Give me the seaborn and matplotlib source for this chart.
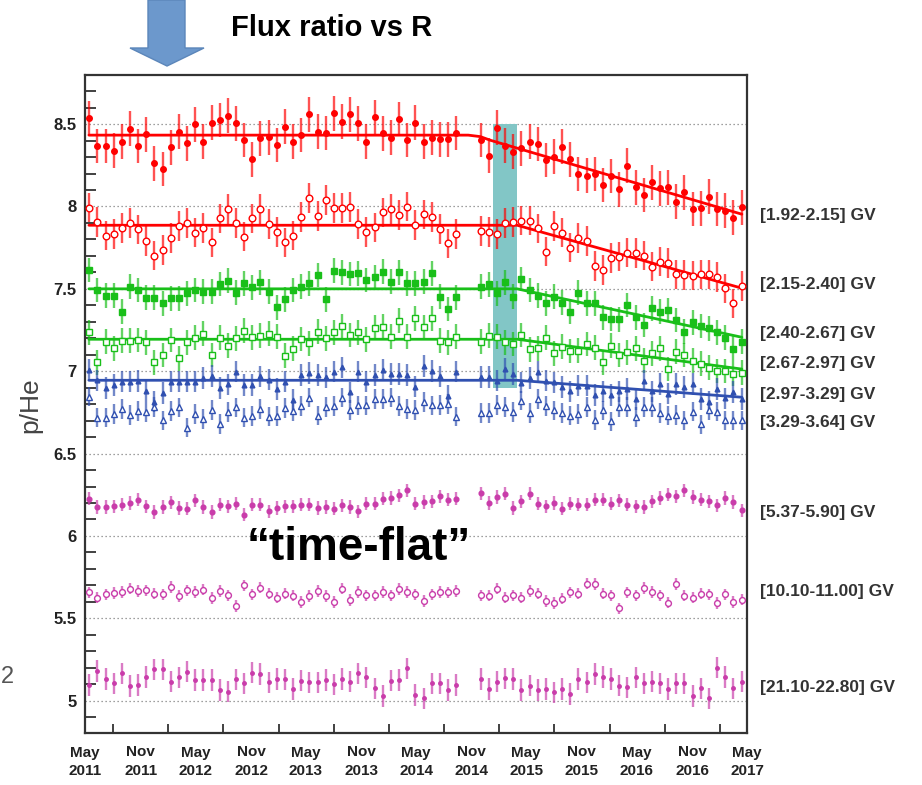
import matplotlib
matplotlib.use("Agg")
import matplotlib.pyplot as plt
import matplotlib.dates as mdates
import matplotlib.transforms as mtransforms
from matplotlib.patches import Polygon, Rectangle
from matplotlib.ticker import MultipleLocator, FormatStrFormatter
import seaborn as sns
import pandas as pd

# Bartels rotations 2426-2506, the two rotations of the 2014 gap are missing
rotations = pd.date_range("2011-05-15", periods=81, freq="27D")
dates = rotations.delete([46, 47])

bins = ["[1.92-2.15] GV", "[2.15-2.40] GV", "[2.40-2.67] GV", "[2.67-2.97] GV",
        "[2.97-3.29] GV", "[3.29-3.64] GV", "[5.37-5.90] GV", "[10.10-11.00] GV",
        "[21.10-22.80] GV"]

ratio_192 = [8.538, 8.367, 8.367, 8.338, 8.393, 8.472, 8.367, 8.437, 8.261, 8.227,
             8.359, 8.454, 8.383, 8.498, 8.393, 8.508, 8.524, 8.551, 8.504, 8.403,
             8.286, 8.413, 8.419, 8.373, 8.484, 8.393, 8.433, 8.559, 8.454, 8.447,
             8.565, 8.514, 8.559, 8.504, 8.393, 8.544, 8.443, 8.417, 8.530, 8.403,
             8.508, 8.393, 8.417, 8.407, 8.407, 8.447,
             8.403, 8.308, 8.478, 8.369, 8.332, 8.352, 8.393, 8.379, 8.282, 8.302,
             8.363, 8.286, 8.197, 8.187, 8.197, 8.130, 8.185, 8.104, 8.247, 8.116,
             8.069, 8.146, 8.110, 8.116, 8.029, 8.086, 7.985, 7.989, 8.059, 7.985,
             7.974, 7.932, 7.995]
ratio_215 = [7.993, 7.904, 7.823, 7.833, 7.871, 7.898, 7.861, 7.792, 7.702, 7.736,
             7.807, 7.881, 7.898, 7.841, 7.871, 7.782, 7.928, 7.985, 7.898, 7.817,
             7.928, 7.983, 7.894, 7.847, 7.782, 7.823, 7.938, 8.053, 7.944, 8.039,
             7.989, 7.989, 7.995, 7.894, 7.847, 7.873, 7.964, 7.985, 7.948, 7.999,
             7.888, 7.952, 7.938, 7.863, 7.776, 7.831,
             7.853, 7.847, 7.831, 7.898, 7.904, 7.914, 7.914, 7.867, 7.726, 7.881,
             7.841, 7.750, 7.807, 7.790, 7.639, 7.615, 7.689, 7.696, 7.720, 7.716,
             7.702, 7.635, 7.665, 7.655, 7.588, 7.584, 7.580, 7.588, 7.588, 7.570,
             7.503, 7.412, 7.518]
ratio_240 = [7.615, 7.493, 7.459, 7.459, 7.362, 7.514, 7.493, 7.447, 7.447, 7.412,
             7.443, 7.443, 7.473, 7.493, 7.483, 7.483, 7.530, 7.550, 7.477, 7.534,
             7.509, 7.540, 7.483, 7.388, 7.437, 7.493, 7.514, 7.534, 7.584, 7.437,
             7.611, 7.600, 7.590, 7.594, 7.554, 7.570, 7.605, 7.544, 7.600, 7.534,
             7.534, 7.544, 7.594, 7.453, 7.378, 7.449,
             7.514, 7.528, 7.473, 7.540, 7.453, 7.560, 7.493, 7.459, 7.412, 7.453,
             7.416, 7.362, 7.477, 7.412, 7.412, 7.328, 7.317, 7.315, 7.402, 7.328,
             7.281, 7.382, 7.362, 7.372, 7.311, 7.241, 7.297, 7.275, 7.261, 7.237,
             7.204, 7.136, 7.180]
ratio_267 = [7.235, 7.055, 7.180, 7.140, 7.186, 7.186, 7.190, 7.176, 7.053, 7.099,
             7.190, 7.079, 7.176, 7.204, 7.227, 7.099, 7.204, 7.156, 7.200, 7.247,
             7.206, 7.216, 7.227, 7.210, 7.095, 7.136, 7.196, 7.170, 7.241, 7.200,
             7.235, 7.275, 7.220, 7.237, 7.194, 7.265, 7.271, 7.210, 7.307, 7.210,
             7.321, 7.267, 7.321, 7.186, 7.176, 7.210,
             7.180, 7.216, 7.210, 7.176, 7.166, 7.220, 7.133, 7.140, 7.204, 7.109,
             7.150, 7.123, 7.125, 7.166, 7.143, 7.053, 7.154, 7.099, 7.115, 7.140,
             7.063, 7.109, 7.140, 7.014, 7.119, 7.099, 7.065, 7.045, 7.022, 7.002,
             7.002, 6.984, 6.992]
ratio_297 = [7.008, 6.944, 6.897, 6.917, 6.937, 6.937, 6.941, 6.877, 6.816, 6.867,
             6.937, 6.937, 6.937, 6.937, 6.958, 6.972, 6.897, 6.921, 6.998, 6.917,
             6.917, 6.968, 6.948, 6.891, 6.937, 6.826, 6.976, 6.990, 6.976, 6.962,
             6.998, 7.024, 6.871, 6.998, 6.937, 6.976, 7.008, 6.984, 6.984, 6.976,
             6.907, 7.032, 7.002, 6.968, 6.850, 6.998,
             6.964, 6.964, 6.943, 7.014, 6.984, 6.930, 6.958, 6.994, 6.943, 6.933,
             6.903, 6.877, 6.913, 6.913, 6.856, 6.877, 6.856, 6.877, 6.893, 6.832,
             6.943, 6.877, 6.923, 6.863, 6.923, 6.903, 6.923, 6.832, 6.812, 6.893,
             6.836, 6.873, 6.832]
ratio_329 = [6.846, 6.719, 6.719, 6.739, 6.770, 6.735, 6.759, 6.751, 6.782, 6.701,
             6.759, 6.780, 6.658, 6.741, 6.709, 6.766, 6.681, 6.751, 6.780, 6.719,
             6.729, 6.770, 6.725, 6.729, 6.776, 6.759, 6.790, 6.840, 6.731, 6.782,
             6.790, 6.840, 6.766, 6.792, 6.792, 6.832, 6.832, 6.840, 6.790, 6.772,
             6.766, 6.812, 6.792, 6.796, 6.802, 6.725,
             6.747, 6.747, 6.796, 6.782, 6.751, 6.822, 6.747, 6.832, 6.788, 6.762,
             6.747, 6.731, 6.741, 6.782, 6.705, 6.762, 6.695, 6.782, 6.782, 6.721,
             6.782, 6.782, 6.747, 6.731, 6.735, 6.701, 6.755, 6.677, 6.762, 6.755,
             6.701, 6.701, 6.701]
ratio_537 = [6.226, 6.176, 6.176, 6.180, 6.190, 6.200, 6.220, 6.180, 6.145, 6.176,
             6.204, 6.170, 6.166, 6.216, 6.176, 6.145, 6.190, 6.180, 6.196, 6.130,
             6.190, 6.190, 6.150, 6.170, 6.180, 6.180, 6.190, 6.190, 6.170, 6.176,
             6.166, 6.186, 6.176, 6.150, 6.196, 6.196, 6.226, 6.230, 6.246, 6.277,
             6.196, 6.206, 6.210, 6.240, 6.220, 6.226,
             6.260, 6.200, 6.236, 6.257, 6.170, 6.210, 6.257, 6.196, 6.180, 6.200,
             6.166, 6.196, 6.190, 6.190, 6.220, 6.220, 6.196, 6.216, 6.190, 6.180,
             6.176, 6.210, 6.230, 6.250, 6.240, 6.277, 6.236, 6.220, 6.210, 6.186,
             6.230, 6.206, 6.156]
ratio_1010 = [5.657, 5.626, 5.646, 5.655, 5.660, 5.680, 5.667, 5.670, 5.650, 5.646,
              5.690, 5.634, 5.670, 5.660, 5.675, 5.624, 5.667, 5.640, 5.574, 5.700,
              5.646, 5.687, 5.650, 5.626, 5.650, 5.638, 5.600, 5.634, 5.667, 5.634,
              5.600, 5.680, 5.610, 5.660, 5.640, 5.640, 5.660, 5.640, 5.677, 5.660,
              5.646, 5.606, 5.646, 5.660, 5.657, 5.667,
              5.640, 5.638, 5.680, 5.626, 5.640, 5.626, 5.667, 5.650, 5.604, 5.594,
              5.620, 5.657, 5.650, 5.711, 5.707, 5.650, 5.640, 5.560, 5.657, 5.640,
              5.685, 5.660, 5.640, 5.596, 5.707, 5.638, 5.626, 5.650, 5.646, 5.594,
              5.646, 5.600, 5.614]
ratio_2110 = [5.095, 5.180, 5.131, 5.105, 5.166, 5.089, 5.095, 5.145, 5.190, 5.190,
              5.115, 5.141, 5.176, 5.125, 5.125, 5.125, 5.065, 5.055, 5.130, 5.105,
              5.170, 5.162, 5.111, 5.131, 5.130, 5.070, 5.121, 5.111, 5.111, 5.125,
              5.099, 5.131, 5.115, 5.166, 5.141, 5.075, 5.028, 5.121, 5.125, 5.196,
              5.034, 5.014, 5.105, 5.105, 5.065, 5.095,
              5.131, 5.070, 5.115, 5.135, 5.131, 5.065, 5.091, 5.065, 5.070, 5.050,
              5.070, 5.040, 5.131, 5.111, 5.162, 5.145, 5.131, 5.091, 5.081, 5.141,
              5.105, 5.115, 5.105, 5.070, 5.105, 5.105, 5.028, 5.075, 5.014, 5.200,
              5.145, 5.075, 5.115]

ratios = [ratio_192, ratio_215, ratio_240, ratio_267, ratio_297, ratio_329,
          ratio_537, ratio_1010, ratio_2110]
errors = [0.105, 0.09, 0.075, 0.075, 0.065, 0.06, 0.04, 0.035, 0.065]

# fitted trends: flat, then a linear decrease
fit_dates = [["2011-05-14", "2014-10-21", "2014-11-30", "2015-01-02", "2017-04-14"],
             ["2011-05-14", "2015-04-01", "2017-04-14"],
             ["2011-05-14", "2015-04-01", "2017-04-14"],
             ["2011-05-14", "2015-04-01", "2017-04-14"],
             ["2011-05-14", "2015-04-01", "2017-04-14"]]
fit_values = [[8.433, 8.433, 8.424, 8.402, 7.953],
              [7.886, 7.886, 7.504],
              [7.500, 7.500, 7.206],
              [7.194, 7.194, 7.013],
              [6.945, 6.945, 6.842]]

band_start, band_end = "2015-01-12", "2015-03-31"
band_low, band_high = 6.9, 8.5

red, green, blue, magenta = "#ff0000", "#19bf19", "#3050b0", "#c93caa"
styles = [(red, "o", True, 4.0), (red, "o", False, 4.8),
          (green, "s", True, 3.8), (green, "s", False, 4.6),
          (blue, "^", True, 3.4), (blue, "^", False, 4.8),
          (magenta, "o", True, 3.4), (magenta, "o", False, 4.2),
          (magenta, "o", True, 2.5)]
fit_colors = [red, red, green, green, blue]
label_y = [7.947, 7.528, 7.230, 7.048, 6.860, 6.690, 6.143, 5.663, 5.080]

sns.set_style("white")
plt.rcParams["font.family"] = ["Liberation Sans", "DejaVu Sans"]

fig = plt.figure(figsize=(9.22, 7.85), dpi=100)
ax = fig.add_axes([85 / 922, 52 / 785, 662 / 922, 658 / 785])

ax.grid(axis="y", which="major", linestyle=(0, (1, 2.2)), color="#808080", linewidth=0.9)
ax.grid(axis="x", visible=False)
ax.set_axisbelow(True)

x0 = mdates.date2num(pd.Timestamp(band_start))
x1 = mdates.date2num(pd.Timestamp(band_end))
ax.add_patch(Rectangle((x0, band_low), x1 - x0, band_high - band_low,
                       facecolor="#82c6c6", edgecolor="none", zorder=2))

for vals, err, (col, mk, filled, ms) in zip(ratios, errors, styles):
    rgb = matplotlib.colors.to_rgb(col)
    ax.errorbar(dates, vals, yerr=err, fmt=mk, ms=ms, mec=col,
                mfc=col if filled else "white", mew=1.0,
                ecolor=rgb + (0.68,), elinewidth=1.7, capsize=0, zorder=5)

for fd, fv, col in zip(fit_dates, fit_values, fit_colors):
    sns.lineplot(x=pd.to_datetime(fd), y=fv, color=col, linewidth=2.0, ax=ax,
                 zorder=4, sort=False)

ax.set_xlim(pd.Timestamp("2011-05-01"), pd.Timestamp("2017-05-01"))
ax.set_ylim(4.804, 8.798)
ax.xaxis.set_major_locator(mdates.MonthLocator(bymonth=(5, 11)))
ax.xaxis.set_minor_locator(mdates.MonthLocator(bymonth=(2, 8)))
ax.xaxis.set_major_formatter(mdates.DateFormatter("%b\n%Y"))
ax.yaxis.set_major_locator(MultipleLocator(0.5))
ax.yaxis.set_minor_locator(MultipleLocator(0.1))
ax.yaxis.set_major_formatter(FormatStrFormatter("%g"))
ax.set_xlabel("")
ax.set_ylabel("")

ax.tick_params(axis="y", which="major", direction="in", length=16.5, width=1.6,
               color="#333333", pad=6, labelsize=12, labelcolor="#222222")
ax.tick_params(axis="y", which="minor", direction="in", length=8, width=1.3,
               color="#333333", left=True)
ax.tick_params(axis="x", which="major", direction="in", length=12, width=1.6,
               color="#333333", pad=9, labelsize=11, labelcolor="#222222")
ax.tick_params(axis="x", which="minor", direction="in", length=6.5, width=1.3,
               color="#333333", bottom=True)
for lab in ax.get_xticklabels() + ax.get_yticklabels():
    lab.set_fontweight("bold")
for lab in ax.get_xticklabels():
    lab.set_linespacing(1.45)

for side in ["left", "right", "top", "bottom"]:
    ax.spines[side].set_visible(True)
    ax.spines[side].set_linewidth(1.6)
    ax.spines[side].set_color("#333333")

trans = mtransforms.blended_transform_factory(ax.transAxes, ax.transData)
for text, yv in zip(bins, label_y):
    ax.text(1.0196, yv, text, transform=trans, ha="left", va="center",
            fontsize=12.5, fontweight="bold", color="#333333")

# slide decorations
arrow = [(148, 0), (185, 0), (185, 48), (204, 48), (167, 66), (130, 48), (148, 48)]
fig.patches.append(Polygon([(x / 922, 1 - y / 785) for x, y in arrow], closed=True,
                           transform=fig.transFigure, facecolor="#6c98cc",
                           edgecolor="#5b86ba", linewidth=1))
fig.text(332 / 922, 1 - 28 / 785, "Flux ratio vs R", ha="center", va="center",
         fontsize=21, fontweight="bold", color="black")
fig.text(247 / 922, 1 - 560 / 785, "\u201ctime-flat\u201d", ha="left", va="baseline",
         fontsize=33, fontweight="bold", color="black")
fig.text(30 / 922, 1 - 405 / 785, "p/He", rotation=90, ha="center", va="center",
         fontsize=19, color="#444444")
fig.text(1 / 922, 1 - 677 / 785, "2", ha="left", va="center", fontsize=17, color="#555555")

fig.savefig("out.png", dpi=100)
